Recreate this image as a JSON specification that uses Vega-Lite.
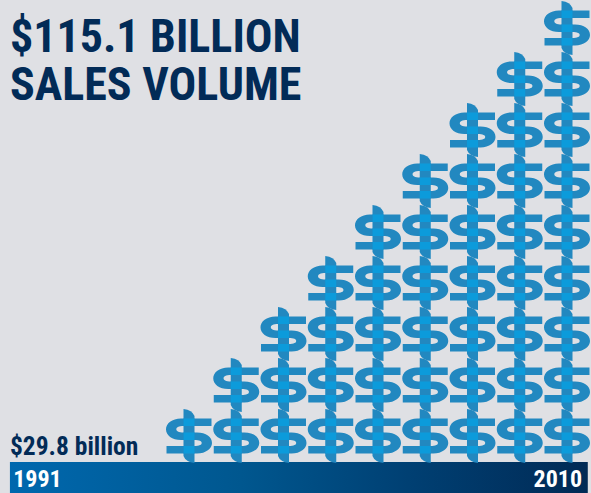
{"$schema":"https://vega.github.io/schema/vega-lite/v6.json","width":591,"height":493,"padding":0,"autosize":{"type":"fit","contains":"padding"},"background":"#dfe0e4","config":{"view":{"stroke":null}},
"datasets":{"stack":[
{"column":1,"level":1},
{"column":2,"level":1},{"column":2,"level":2},
{"column":3,"level":1},{"column":3,"level":2},{"column":3,"level":3},
{"column":4,"level":1},{"column":4,"level":2},{"column":4,"level":3},{"column":4,"level":4},
{"column":5,"level":1},{"column":5,"level":2},{"column":5,"level":3},{"column":5,"level":4},{"column":5,"level":5},
{"column":6,"level":1},{"column":6,"level":2},{"column":6,"level":3},{"column":6,"level":4},{"column":6,"level":5},{"column":6,"level":6},
{"column":7,"level":1},{"column":7,"level":2},{"column":7,"level":3},{"column":7,"level":4},{"column":7,"level":5},{"column":7,"level":6},{"column":7,"level":7},
{"column":8,"level":1},{"column":8,"level":2},{"column":8,"level":3},{"column":8,"level":4},{"column":8,"level":5},{"column":8,"level":6},{"column":8,"level":7},{"column":8,"level":8},
{"column":9,"level":1},{"column":9,"level":2},{"column":9,"level":3},{"column":9,"level":4},{"column":9,"level":5},{"column":9,"level":6},{"column":9,"level":7},{"column":9,"level":8},{"column":9,"level":9}
]},
"encoding":{
"x":{"type":"quantitative","scale":{"domain":[-3,9.508],"nice":false,"zero":false},"axis":null},
"y":{"type":"quantitative","scale":{"domain":[-0.1176,9.549],"nice":false,"zero":false},"axis":null}
},
"layer":[
{"data":{"values":[{"start":-2.79,"end":9.44,"low":-0.1176,"high":0.49}]},
"mark":{"type":"rect","color":{"gradient":"linear","x1":0,"y1":0,"x2":1,"y2":0,"stops":[{"offset":0,"color":"#0068ae"},{"offset":0.4,"color":"#00578f"},{"offset":0.7,"color":"#003f72"},{"offset":1,"color":"#012a55"}]}},
"encoding":{"x":{"field":"start","type":"quantitative"},"x2":{"field":"end"},"y":{"field":"low","type":"quantitative"},"y2":{"field":"high"}}},
{"data":{"name":"stack"},"mark":{"type":"point","filled":true,"opacity":1,"size":2916,"color":"#2288c0","shape":"M.833 -.648 L-.296 -.648 C-.63 -.648 -.852 -.46 -.852 -.25 C-.852 -.03 -.63 .15 -.296 .15 L.185 .15 C.4 .15 .47 .2 .47 .259 C.47 .32 .4 .37 .185 .37 L-.833 .37 L-.833 .648 L.296 .648 C.63 .648 .852 .46 .852 .259 C.852 .03 .63 -.13 .296 -.13 L-.185 -.13 C-.4 -.13 -.47 -.19 -.47 -.25 C-.47 -.31 -.4 -.37 -.185 -.37 L.833 -.37 Z"},"encoding":{"x":{"field":"column","type":"quantitative"},"y":{"field":"level","type":"quantitative"}}},
{"data":{"name":"stack"},"mark":{"type":"point","filled":true,"opacity":1,"size":2916,"color":"#2288c0","shape":"M-.204 -1 Q.12 -.96 .204 -.74 L.204 1 Q-.12 .96 -.204 .74 Z"},"encoding":{"x":{"field":"column","type":"quantitative"},"y":{"field":"level","type":"quantitative"}}},
{"data":{"name":"stack"},"mark":{"type":"point","filled":true,"opacity":1,"size":2916,"color":"#0c9bdb","shape":"M-.204 -.648 L.204 -.648 L.204 -.37 L-.204 -.37 Z M-.204 -.13 L.204 -.13 L.204 .15 L-.204 .15 Z M-.204 .37 L.204 .37 L.204 .648 L-.204 .648 Z"},"encoding":{"x":{"field":"column","type":"quantitative"},"y":{"field":"level","type":"quantitative"}}},
{"data":{"values":[{"label":"$115.1 BILLION"}]},"mark":{"type":"text","font":"Roboto Condensed, Roboto","fontWeight":"bold","fontSize":46,"align":"left","baseline":"alphabetic","color":"#022b57"},"encoding":{"text":{"field":"label"},"x":{"datum":-2.79},"y":{"datum":8.52}}},
{"data":{"values":[{"label":"SALES VOLUME"}]},"mark":{"type":"text","font":"Roboto Condensed, Roboto","fontWeight":"bold","fontSize":46,"align":"left","baseline":"alphabetic","color":"#022b57"},"encoding":{"text":{"field":"label"},"x":{"datum":-2.79},"y":{"datum":7.59}}},
{"data":{"values":[{"label":"$29.8 billion"}]},"mark":{"type":"text","font":"Roboto Condensed, Roboto","fontWeight":"bold","fontSize":25.5,"align":"left","baseline":"alphabetic","color":"#022b57"},"encoding":{"text":{"field":"label"},"x":{"datum":-2.79},"y":{"datum":0.627}}},
{"data":{"values":[{"label":"1991"}]},"mark":{"type":"text","font":"Roboto Condensed, Roboto","fontWeight":"bold","fontSize":24,"align":"left","baseline":"alphabetic","color":"#ffffff"},"encoding":{"text":{"field":"label"},"x":{"datum":-2.72},"y":{"datum":0.0}}},
{"data":{"values":[{"label":"2010"}]},"mark":{"type":"text","font":"Roboto Condensed, Roboto","fontWeight":"bold","fontSize":24,"align":"right","baseline":"alphabetic","color":"#ffffff"},"encoding":{"text":{"field":"label"},"x":{"datum":9.32},"y":{"datum":0.0}}}
]}
